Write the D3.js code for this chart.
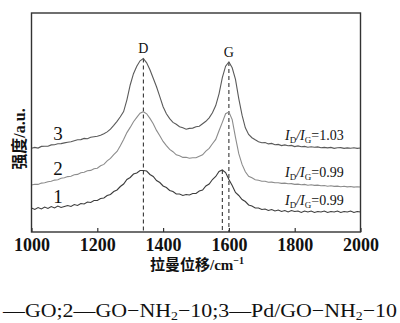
<!DOCTYPE html>
<html>
<head>
<meta charset="utf-8">
<script src="https://cdn.jsdelivr.net/npm/d3@7"></script>
<style>
  body { margin: 0; background: #fff; }
  svg { display: block; }
  text { font-family: "Liberation Serif", "Times New Roman", serif; fill: #111; }
  .cjk { font-family: "Noto Sans CJK SC", sans-serif; }
</style>
</head>
<body>
<div id="chart"></div>
<script>
// raman shift grid (cm-1)
const shift = d3.range(1000, 2001, 10);
const xTicks = [1000, 1200, 1400, 1600, 1800, 2000];

// 1 - GO
const go = [
  24, 22.5, 24.5, 23, 25, 23.5, 25.5, 24, 26, 24.5,
  25.5, 26.5, 25.5, 27.5, 26.5, 28.5, 28, 30, 29.5, 31.5,
  31.5, 33.5, 34, 36.5, 37.5, 40.5, 42, 45.5, 48, 52.5,
  54.5, 58, 59, 61.5, 61.5, 61, 57.5, 55.5, 51.5, 49.5,
  46, 44.5, 41.5, 40.5, 38, 38, 36.5, 37.5, 37, 38.5,
  38.5, 41, 42, 46, 48, 52.5, 55.5, 60.5, 62, 59.5,
  52.5, 46.5, 39.5, 36.5, 32.5, 30.5, 27, 26, 24, 24,
  22.5, 23, 21.5, 22.5, 21, 22, 20.5, 21.5, 20, 21.5,
  20.5, 21, 19.5, 21, 20, 21, 19.5, 20.5, 20, 21,
  19.5, 20.5, 20, 21, 19.5, 20.5, 20, 21, 19.5, 20.5,
  20
];
// 2 - GO-NH2-10
const goNH2 = [
  47, 47.8, 47.6, 48.9, 49.2, 50.3, 50.7, 51.9, 52.2, 53.7,
  54.3, 55.4, 55.8, 57.2, 57.6, 59.3, 59.7, 61.2, 61.6, 63.3,
  63.8, 66.3, 67.6, 71.2, 73.6, 77.4, 80.6, 86.3, 92.6, 99.4,
  104.6, 110.3, 114.6, 118.8, 120.3, 118.2, 113.6, 108.3, 101.6, 96.3,
  90.6, 86.3, 82.6, 80.3, 77.2, 76.3, 74.6, 74.8, 73.7, 74.3,
  74.2, 75.8, 77.2, 80.8, 83.6, 88.3, 92.6, 101.3, 109.6, 118.3,
  120, 112.4, 94.6, 78.3, 67.6, 60.3, 55.7, 54.2, 52.3, 51.8,
  50.7, 50.8, 49.7, 49.9, 49.2, 49.3, 48.6, 48.9, 48.2, 48.4,
  47.6, 47.9, 47.3, 47.6, 46.8, 47.2, 46.6, 46.9, 46.2, 46.5,
  45.8, 46.2, 45.6, 45.9, 45.3, 45.7, 45.1, 45.5, 44.9, 45.3,
  45
];
// 3 - Pd/GO-NH2-10
const pdGoNH2 = [
  83.7, 84.6, 83.9, 85.6, 85.8, 85.7, 87.1, 87.3, 88.2, 88.4,
  89.1, 89.8, 90.3, 91.3, 92.2, 92.4, 93.6, 93.2, 94.7, 95.3,
  95.7, 96.8, 98.2, 100.1, 102.8, 106.6, 110.7, 115.3, 120.4, 132.2,
  147, 158.3, 165.8, 171.2, 173.5, 169.2, 162.3, 153.8, 145.2, 135.4,
  125.3, 118.2, 113.4, 109.6, 107.8, 105.3, 104.2, 102.8, 103.6, 103.9,
  105.2, 105.8, 108.3, 110.7, 114.2, 119.3, 126.4, 138.2, 154.3, 165.8,
  170, 164.2, 152.6, 133.3, 116.8, 104.2, 97.6, 94.3, 92.2, 90.3,
  89.2, 89.4, 88.1, 88.6, 87.2, 87.6, 86.4, 87.1, 86.2, 86.6,
  85.4, 86.1, 85.2, 85.6, 84.8, 85.3, 84.7, 85.1, 84.2, 84.6,
  84.1, 84.6, 83.6, 84.2, 84.4, 83.6, 84.1, 83.7, 84.2, 83.6,
  84
];

const curveNames = ["1", "2", "3"];
const ratios = ["1.03", "0.99", "0.99"]; // for curves 3, 2, 1
const peakD = 1340, peakG = 1600, peakG1 = 1580;

const width = 400, height = 323;
const plot = { left: 31.5, right: 360.5, top: 13, bottom: 232 };

const svg = d3.select("#chart").append("svg")
  .attr("width", width).attr("height", height);

const x = d3.scaleLinear().domain([1000, 2000]).range([plot.left, plot.right]);
const y = d3.scaleLinear().domain([0, 219]).range([plot.bottom, plot.top]);

// dashed peak markers
const dash = [
  { at: peakD, h: 173.5 },
  { at: peakG, h: 170 },
  { at: peakG1, h: 62 }
];
svg.selectAll("line.peak").data(dash).enter().append("line")
  .attr("class", "peak")
  .attr("x1", d => x(d.at)).attr("x2", d => x(d.at))
  .attr("y1", d => y(d.h)).attr("y2", plot.bottom)
  .attr("stroke", "#222").attr("stroke-width", 1)
  .attr("stroke-dasharray", "4,3");

// spectra
const series = [
  { values: go, color: "#3c3c3c" },
  { values: goNH2, color: "#8c8c8c" },
  { values: pdGoNH2, color: "#5a5a5a" }
];
const line = d3.line()
  .x((d, i) => x(shift[i]))
  .y(d => y(d));
svg.selectAll("path.spec").data(series).enter().append("path")
  .attr("class", "spec")
  .attr("d", d => line(d.values))
  .attr("fill", "none")
  .attr("stroke", d => d.color)
  .attr("stroke-width", 1.1);

// frame
svg.append("rect")
  .attr("x", plot.left).attr("y", plot.top)
  .attr("width", plot.right - plot.left).attr("height", plot.bottom - plot.top)
  .attr("fill", "none").attr("stroke", "#333").attr("stroke-width", 1.4);

// x axis ticks (inward) and labels
const xAxis = svg.append("g").attr("transform", "translate(0," + plot.bottom + ")")
  .call(d3.axisBottom(x).tickValues(xTicks).tickFormat(d3.format("d"))
    .tickSizeInner(-4).tickSizeOuter(0));
xAxis.select(".domain").remove();
xAxis.selectAll(".tick line").attr("stroke", "#333").attr("stroke-width", 1.2);
xAxis.selectAll(".tick text")
  .attr("y", 19).attr("dy", 0)
  .style("font-family", "'Liberation Serif', serif")
  .style("font-size", "18px").style("font-weight", "bold").attr("fill", "#111");

// axis titles
const xt = svg.append("text").attr("x", 197).attr("y", 270)
  .attr("text-anchor", "middle").style("font-size", "15px");
xt.append("tspan").attr("class", "cjk").style("font-weight", "bold").text("拉曼位移");
xt.append("tspan").style("font-weight", "bold").text("/cm");
xt.append("tspan").attr("dy", -6).style("font-size", "10px").style("font-weight", "bold").text("−1");

const yt = svg.append("text")
  .attr("transform", "translate(25,139) rotate(-90)")
  .attr("text-anchor", "middle").style("font-size", "16px");
yt.append("tspan").attr("class", "cjk").style("font-weight", "bold").text("强度");
yt.append("tspan").style("font-weight", "bold").text("/a.u.");

// peak letters
svg.append("text").attr("x", x(peakD)).attr("y", 53).attr("text-anchor", "middle")
  .style("font-size", "14px").text("D");
svg.append("text").attr("x", x(peakG)).attr("y", 57).attr("text-anchor", "middle")
  .style("font-size", "14px").text("G");

// curve numbers
const numY = [203, 175, 140];
svg.selectAll("text.num").data(curveNames).enter().append("text")
  .attr("class", "num")
  .attr("x", 58).attr("y", (d, i) => numY[i])
  .attr("text-anchor", "middle")
  .style("font-size", "19px")
  .text(d => d);

// I_D/I_G labels
const ratioY = [140, 177, 205];
ratios.forEach((r, i) => {
  const t = svg.append("text").attr("x", 285).attr("y", ratioY[i]).style("font-size", "14px");
  t.append("tspan").style("font-style", "italic").text("I");
  t.append("tspan").attr("dy", 3).style("font-size", "9px").text("D");
  t.append("tspan").attr("dy", -3).style("font-style", "italic").text("/I");
  t.append("tspan").attr("dy", 3).style("font-size", "9px").text("G");
  t.append("tspan").attr("dy", -3).text("=" + r);
});

// caption
const cap = svg.append("text").attr("x", 3).attr("y", 317)
  .attr("textLength", 394).attr("lengthAdjust", "spacingAndGlyphs")
  .style("font-size", "19px");
cap.append("tspan").text("—GO;2—GO−NH");
cap.append("tspan").attr("dy", 3).style("font-size", "12px").text("2");
cap.append("tspan").attr("dy", -3).text("−10;3—Pd/GO−NH");
cap.append("tspan").attr("dy", 3).style("font-size", "12px").text("2");
cap.append("tspan").attr("dy", -3).text("−10");
</script>
</body>
</html>
